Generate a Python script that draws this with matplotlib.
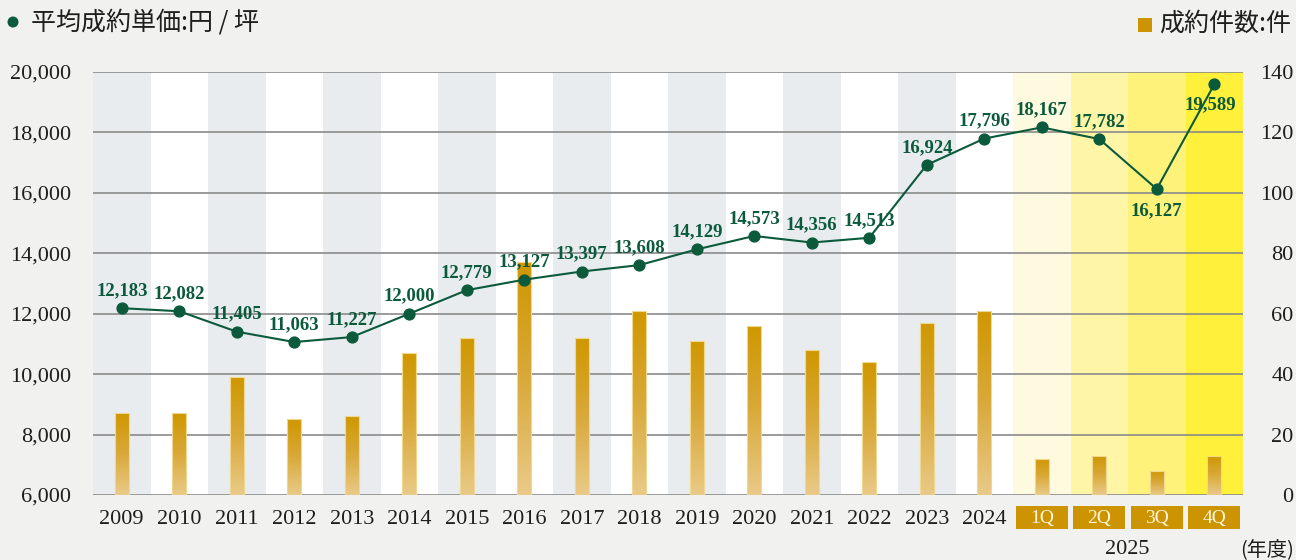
import numpy as np
import matplotlib
matplotlib.use('Agg')
import matplotlib.pyplot as plt
from matplotlib.patches import Rectangle, Ellipse
from matplotlib.colors import LinearSegmentedColormap
import matplotlib.transforms as mtransforms
from matplotlib.ticker import FuncFormatter

# ---------------- data ----------------
years = ['2009', '2010', '2011', '2012', '2013', '2014', '2015', '2016',
         '2017', '2018', '2019', '2020', '2021', '2022', '2023', '2024']
quarters = ['1Q', '2Q', '3Q', '4Q']
categories = years + quarters
unit_price = [12183, 12082, 11405, 11063, 11227, 12000, 12779, 13127,
              13397, 13608, 14129, 14573, 14356, 14513, 16924, 17796,
              18167, 17782, 16127, 19589]
contracts = [27, 27, 39, 25, 26, 47, 52, 77, 52, 61, 51, 56, 48, 44, 57, 61,
             12, 13, 8, 13]
price_ticks = [6000, 8000, 10000, 12000, 14000, 16000, 18000, 20000]
count_ticks = [0, 20, 40, 60, 80, 100, 120, 140]
quarter_year = '2025'
legend_price = '平均成約単価:円 / 坪'
legend_count = '成約件数:件'
unit_label = '(年度)'

# ---------------- style ----------------
W, H = 1296, 560
BG = '#f1f1f0'
GREEN = '#0b5a3b'
GOLD = '#cc9400'
STRIPE = '#e8ecef'
QCOLORS = ['#fefadf', '#fef6a6', '#fef27a', '#fff03c']
TXT = '#1e1e1e'
SERIF = ['Liberation Serif', 'DejaVu Serif']
JP = ['Noto Sans CJK JP', 'DejaVu Sans']

fig = plt.figure(figsize=(W / 100, H / 100), dpi=100, facecolor=BG)
L, R, T, B = 93, 1243, 72, 495
ax = fig.add_axes([L / W, 1 - B / H, (R - L) / W, (B - T) / H])
ax2 = ax.twinx()
ax.set_facecolor('white')
n = len(categories)
x = np.arange(n)
nyears = len(years)

# column stripes
for i in range(n):
    if i < nyears:
        c = STRIPE if i % 2 == 0 else 'white'
    else:
        c = QCOLORS[i - nyears]
    ax.axvspan(i - 0.5, i + 0.5, color=c, lw=0, zorder=0)

# grid
ax.set_yticks(count_ticks)
ax.yaxis.grid(True, color='#8a8a8a', lw=1.2)
ax.xaxis.grid(False)
for s in ax.spines.values():
    s.set_visible(False)

# gradient bars
cmap = LinearSegmentedColormap.from_list('g', ['#e9ca88', '#d9a93a', '#cf9700'])
grad = np.linspace(0, 1, 256).reshape(-1, 1)
bw = 0.235
bars = ax.bar(x, contracts, width=bw, facecolor='none', edgecolor='#f0d88e',
              lw=0.8, zorder=3.2)
for b in bars:
    x0, y0 = b.get_x(), b.get_y()
    w, h = b.get_width(), b.get_height()
    im = ax.imshow(grad, cmap=cmap, extent=[x0, x0 + w, y0, y0 + h],
                   origin='lower', aspect='auto', zorder=3, interpolation='bilinear')
    im.set_clip_path(b)
ax.set_xlim(-0.5, n - 0.5)
ax.set_ylim(count_ticks[0], count_ticks[-1])

# right ticks (counts)
ax.yaxis.tick_right()
ax.tick_params(axis='y', which='both', left=False, right=False, labelleft=False,
               labelright=True, length=0, pad=36.5, labelsize=16, labelcolor=TXT)
ax.set_yticks(count_ticks)
ax.set_yticklabels([str(c) for c in count_ticks], fontfamily=SERIF, ha='right')

# x ticks
ax.set_xticks(x)
ax.set_xticklabels(categories)
ax.tick_params(axis='x', length=0, pad=11, labelsize=16, labelcolor=TXT)
for i, lab in enumerate(ax.get_xticklabels()):
    lab.set_fontfamily(SERIF)
    if i >= nyears:
        lab.set_color('#fff6e0')
        lab.set_fontsize(14)
trans = mtransforms.blended_transform_factory(ax.transData, ax.transAxes)
for i in range(nyears, n):
    ax.add_patch(Rectangle((i - 0.455, -(528.7 - B) / (B - T)), 0.91,
                           (528.7 - 506) / (B - T), transform=trans,
                           facecolor=GOLD, edgecolor='none', clip_on=False,
                           zorder=1))

# price line on twin axis
ax2.set_ylim(price_ticks[0], price_ticks[-1])
ax2.set_xlim(-0.5, n - 0.5)
ax2.patch.set_visible(False)
for s in ax2.spines.values():
    s.set_visible(False)
ax2.plot(x, unit_price, color=GREEN, lw=1.5, marker='o', ms=7.8, zorder=5)
ax2.yaxis.tick_left()
ax2.set_yticks(price_ticks)
ax2.yaxis.set_major_formatter(FuncFormatter(lambda v, p: f'{int(v):,}'))
ax2.tick_params(axis='y', which='both', left=False, right=False, labelleft=True,
                labelright=False, length=0, pad=16, labelsize=16, labelcolor=TXT)
for lab in ax2.get_yticklabels():
    lab.set_fontfamily(SERIF)

below = {18: -15.5, 19: -14.5}
for i, v in enumerate(unit_price):
    dy = below.get(i, 12.6)
    dx = -3 if i == 19 else 0
    ax2.annotate(f'{v:,}', (x[i], v), xytext=(dx, dy), textcoords='offset points',
                 ha='center', va='center', fontsize=13.5, fontweight='bold',
                 color=GREEN, family=SERIF, zorder=6)

# legends and extra labels
def fx(px):
    return px / W

def fy(py):
    return 1 - py / H

fig.add_artist(Ellipse((fx(13), fy(22)), 11 / W, 11 / H, transform=fig.transFigure,
                       facecolor=GREEN, edgecolor='none'))
fig.text(fx(31), fy(22), legend_price, fontsize=18, family=JP, color=TXT,
         ha='left', va='center')
fig.add_artist(Rectangle((fx(1138), fy(32)), 14 / W, 14 / H,
                         transform=fig.transFigure, facecolor=GOLD,
                         edgecolor='none'))
fig.text(fx(1159), fy(24), legend_count, fontsize=18, family=JP, color=TXT,
         ha='left', va='center')
fig.text(fx(1127), fy(550), quarter_year, fontsize=16, family=SERIF, color=TXT,
         ha='center', va='center')
fig.text(fx(1294), fy(550), unit_label, fontsize=14.5, family=JP, color=TXT,
         ha='right', va='center')

fig.savefig('out.png', dpi=100, facecolor=BG)
